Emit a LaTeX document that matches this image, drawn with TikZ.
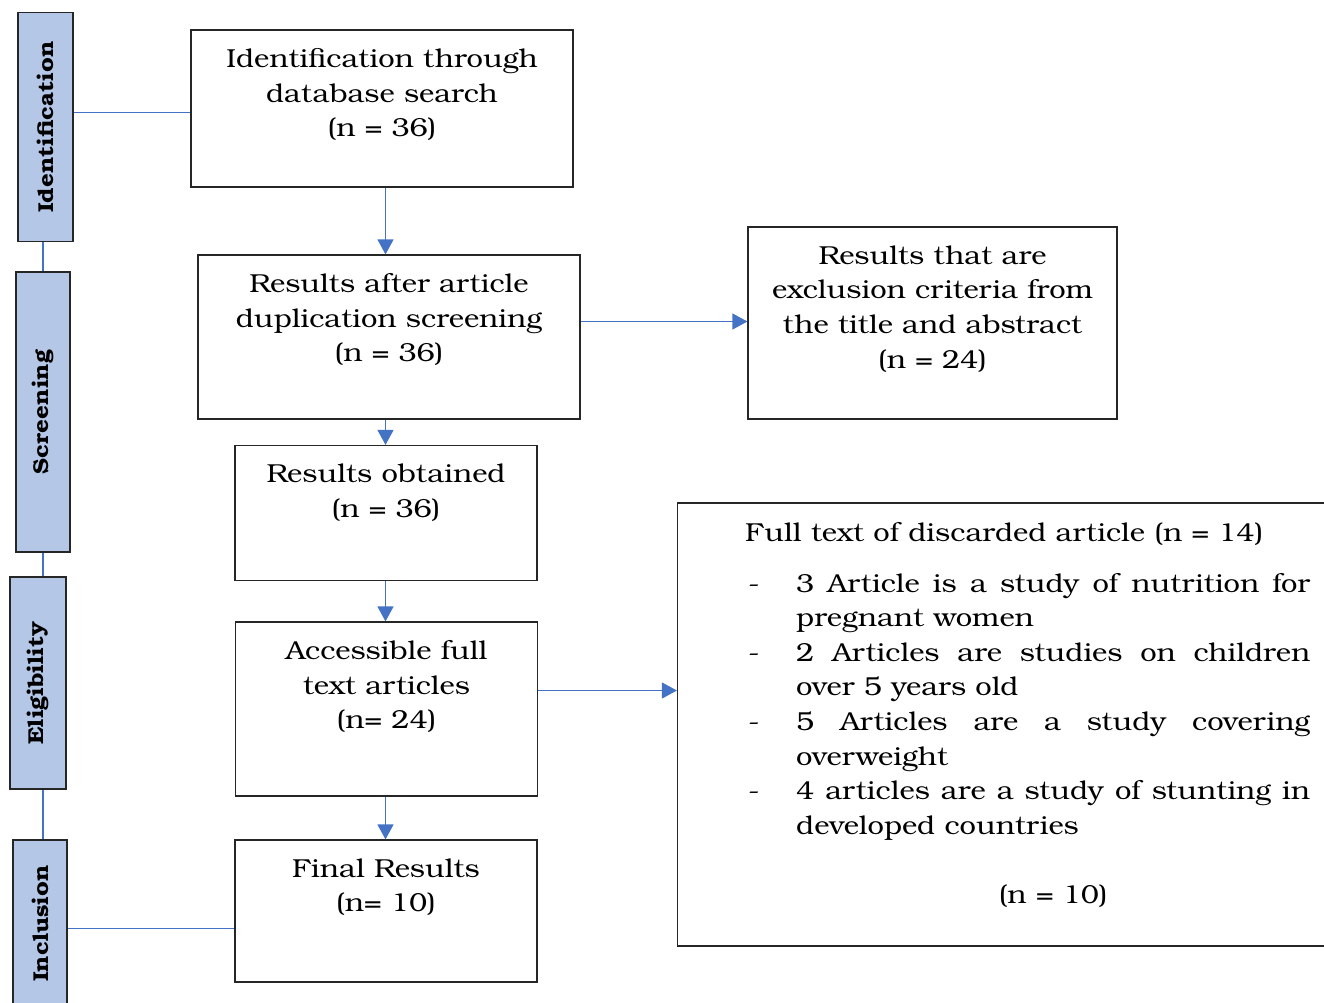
\documentclass[tikz,border=0pt]{standalone}
\usepackage{fontspec}
\setmainfont{texgyrebonum-regular.otf}[BoldFont=texgyrebonum-bold.otf, FakeStretch=1.12]
\usepackage{tikz}
\usetikzlibrary{arrows.meta}
\definecolor{linkblue}{HTML}{4472C4}
\definecolor{phaseblue}{HTML}{B4C7E7}
\tikzstyle{link}=[line width=1.3pt, draw=linkblue]
\tikzstyle{flowarrow}=[link, -{Triangle[length=15pt,width=16pt]}]
\tikzstyle{phase}=[draw=black!85, line width=1.3pt, fill=phaseblue, inner sep=0pt, font=\fontsize{21.5}{24}\selectfont\bfseries]
\tikzstyle{box}=[draw=black!85, line width=1.2pt, fill=white, inner sep=0pt]
\tikzstyle{boxtext}=[inner sep=0pt, align=center, anchor=north, font=\fontsize{26}{34.6}\selectfont, execute at begin node=\rule{0pt}{25pt}]
\newcommand{\uptext}[1]{\rotatebox{90}{#1}}
\newcommand{\dashitem}[1]{\par\noindent\hangindent=51pt\hangafter=1\hspace*{3pt}\makebox[48pt][l]{-}#1}

\begin{document}
\begin{tikzpicture}[x=1pt,y=-1pt]
				\useasboundingbox (0,0) rectangle (1324,1002);
				
				%The phase bars
				\draw (45.5,127) node[phase, minimum width=55pt, minimum height=229pt] (ident) {\uptext{Identification}};
				\draw (43,412) node[phase, minimum width=54pt, minimum height=280pt] (screen) {\uptext{Screening}};
				\draw (38,683) node[phase, minimum width=56pt, minimum height=212pt] (elig) {\uptext{Eligibility}};
				\draw (40,923.5) node[phase, minimum width=54pt, minimum height=167pt] (incl) {\uptext{Inclusion}};
				
				%Rows and columns of the connectors
				\coordinate (barx) at (43,0);
				\coordinate (colx) at (385.5,0);
				\coordinate (rowid) at (0,112.5);
				\coordinate (rowdup) at (0,321.5);
				\coordinate (rowfull) at (0,690.5);
				\coordinate (rowinc) at (0,928.5);
				
				%The main column
				\draw (382,108.5) node[box, minimum width=382pt, minimum height=157pt] (search) {};
				\draw (search.north) ++(0,19) node[boxtext] (search text) {Identification through\\database search\\(n = 36)};
				
				\draw (389,337) node[box, minimum width=382pt, minimum height=164pt] (dup) {};
				\draw (dup.north) ++(0,19) node[boxtext] (dup text) {Results after article\\duplication screening\\(n = 36)};
				
				\draw (386,513) node[box, minimum width=302pt, minimum height=135pt] (obtained) {};
				\draw (obtained.north) ++(0,19) node[boxtext] (obtained text) {Results obtained\\(n = 36)};
				
				\draw (386.5,709) node[box, minimum width=302pt, minimum height=174pt] (access) {};
				\draw (access.north) ++(0,19) node[boxtext] (access text) {Accessible full\\text articles\\(n= 24)};
				
				\draw (386,911) node[box, minimum width=302pt, minimum height=142pt] (final) {};
				\draw (final.north) ++(0,19) node[boxtext] (final text) {Final Results\\(n= 10)};
				
				%The excluded records
				\draw (932.5,323) node[box, minimum width=369pt, minimum height=192pt] (excl) {};
				\draw (excl.north) ++(0,19) node[boxtext] (excl text) {Results that are\\exclusion criteria from\\the title and abstract\\(n = 24)};
				
				\draw (1009,724.5) node[box, minimum width=663pt, minimum height=443pt] (discard) {};
				\draw (745,541) node[boxtext, anchor=base west, align=left, execute at begin node={}] (discard text) {\begin{minipage}[t]{565pt}
						\noindent Full text of discarded article (n = 14)\par
						\vspace{16.5pt}
						\dashitem{3 Article is a study of nutrition for\linebreak pregnant women}
						\dashitem{2 Articles are studies on children\linebreak over 5 years old}
						\dashitem{5 Articles are a study covering\linebreak overweight}
						\dashitem{4 articles are a study of stunting in\linebreak developed countries}
						\par\vspace{34.5pt}
						\noindent\hspace*{51pt}\makebox[514pt]{(n = 10)}
					\end{minipage}};
				
				%Connectors
				\draw[link] (ident.south -| barx) -- (screen.north -| barx);
				\draw[link] (screen.south -| barx) -- (elig.north -| barx);
				\draw[link] (elig.south -| barx) -- (incl.north -| barx);
				\draw[link] (ident.east |- rowid) -- (search.west |- rowid);
				\draw[link] (incl.east |- rowinc) -- (final.west |- rowinc);
				
				\draw[flowarrow] (search.south -| colx) -- (dup.north -| colx);
				\draw[flowarrow] (dup.south -| colx) -- (obtained.north -| colx);
				\draw[flowarrow] (obtained.south -| colx) -- (access.north -| colx);
				\draw[flowarrow] (access.south -| colx) -- (final.north -| colx);
				\draw[flowarrow] (dup.east |- rowdup) -- (excl.west |- rowdup);
				\draw[flowarrow] (access.east |- rowfull) -- (discard.west |- rowfull);
			\end{tikzpicture}
\end{document}
